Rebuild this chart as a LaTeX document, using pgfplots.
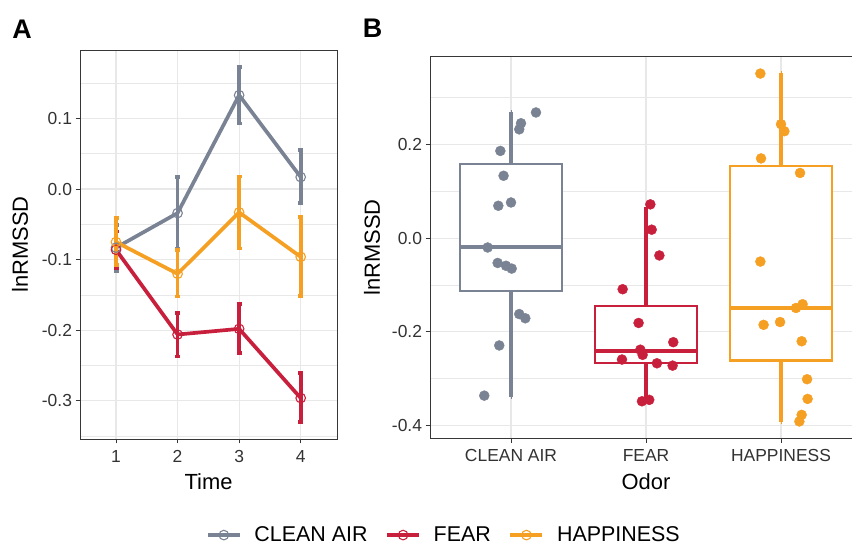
\documentclass[border=0pt]{standalone}
\usepackage{pgfplots}
\pgfplotsset{compat=1.18}
\usepgfplotslibrary{statistics}
\usepackage{fontspec}
\setmainfont{Liberation Sans}

\definecolor{cair}{RGB}{122,131,148}
\definecolor{cfear}{RGB}{200,32,60}
\definecolor{chap}{RGB}{245,160,35}
\definecolor{gridc}{RGB}{232,232,232}
\definecolor{framec}{RGB}{55,55,55}
\definecolor{tickc}{RGB}{50,50,50}

% panel A: means over time with error bars
\pgfplotstableread{
t m ep em
1 -0.083 0.032 0.033
2 -0.034 0.051 0.050
3 0.133 0.040 0.040
4 0.017 0.038 0.037
}\airA
\pgfplotstableread{
t m ep em
1 -0.086 0.026 0.026
2 -0.206 0.030 0.031
3 -0.198 0.035 0.034
4 -0.296 0.035 0.034
}\fearA
\pgfplotstableread{
t m ep em
1 -0.075 0.034 0.033
2 -0.120 0.034 0.032
3 -0.033 0.051 0.051
4 -0.096 0.056 0.055
}\hapA

% panel B: jittered individual values
\pgfplotstableread{
x y
1.185 0.268
1.074 0.245
1.061 0.232
0.921 0.186
0.945 0.133
0.906 0.069
1.000 0.076
0.827 -0.020
0.901 -0.053
0.963 -0.059
1.005 -0.065
1.061 -0.162
1.106 -0.171
0.913 -0.229
0.802 -0.336
}\airB
\pgfplotstableread{
x y
2.032 0.072
2.042 0.018
2.099 -0.037
1.827 -0.109
1.945 -0.181
2.202 -0.222
1.958 -0.238
1.975 -0.249
1.822 -0.259
2.081 -0.267
2.197 -0.272
1.970 -0.348
2.024 -0.345
}\fearB
\pgfplotstableread{
x y
2.847 0.351
3.000 0.243
3.025 0.228
2.852 0.170
3.141 0.139
2.847 -0.050
3.160 -0.141
3.111 -0.149
2.871 -0.185
2.993 -0.179
3.153 -0.220
3.193 -0.301
3.197 -0.343
3.153 -0.377
3.136 -0.391
}\hapB

\pgfplotsset{
  panel/.style={
    scale only axis,
    axis line style={draw=framec, line width=0.9bp},
    grid=both,
    major grid style={gridc, line width=1.2bp},
    minor grid style={gridc, line width=0.7bp},
    tick style={framec, line width=0.9bp},
    tick align=outside,
    xtick pos=bottom, ytick pos=left,
    major tick length=4.5bp,
    minor tick length=0bp,
    ticklabel style={font=\fontsize{17.5}{19}\selectfont, text=tickc},
    xticklabel style={yshift=-3bp},
    label style={font=\fontsize{22}{24}\selectfont},
    /pgf/number format/assume math mode=true,
  },
  errs/.style={
    line width=3.7bp, mark=o, mark size=4.8bp, mark options={line width=1.1bp},
    error bars/.cd, y dir=both, y explicit,
    error bar style={line width=3.7bp},
    error mark options={rotate=90, mark size=2.5bp, line width=3.7bp},
  },
  bx/.style={
    line width=2.2bp,
    boxplot/every box/.style={draw=#1, fill=white, line width=2.2bp},
    boxplot/every median/.style={draw=#1, line width=4bp},
    boxplot/every whisker/.style={draw=#1, line width=4bp},
    draw=#1,
  },
}

\begin{document}
\begin{tikzpicture}[x=1bp, y=1bp]
\useasboundingbox (0,0) rectangle (852,545);

\node[font=\bfseries\fontsize{27}{27}\selectfont] at (22,515.5) {A};
\node[font=\bfseries\fontsize{27}{27}\selectfont] at (372.5,517) {B};

\begin{axis}[panel,
  at={(80bp,106bp)}, anchor=south west,
  width=257bp, height=389bp,
  xmin=0.415, xmax=4.59, ymin=-0.354, ymax=0.197,
  xtick={1,2,3,4},
  ytick={-0.3,-0.2,-0.1,0,0.1},
  yticklabels={-0.3,-0.2,-0.1,0.0,0.1},
  minor ytick={-0.35,-0.25,-0.15,-0.05,0.05,0.15},
  xlabel={Time}, ylabel={lnRMSSD},
  xlabel style={at={(axis description cs:0.5,-0.11)}, anchor=center},
  ylabel style={at={(axis description cs:-0.233,0.5)}, anchor=center},
  legend columns=3,
  legend style={at={(axis description cs:1.42,-0.247)}, anchor=center,
    draw=none, fill=none, font=\fontsize{21.5}{23}\selectfont,
    nodes={inner xsep=4bp},
    /tikz/every odd column/.append style={column sep=9bp},
    /tikz/every even column/.append style={column sep=14bp}},
  legend image code/.code={\draw[mark repeat=2, mark phase=2, line width=3.2bp]
    plot coordinates {(0bp,0bp) (16bp,0bp) (32bp,0bp)};},
]
\addplot[cair, errs] table[x=t, y=m, y error plus=ep, y error minus=em] {\airA};
\addplot[cfear, errs] table[x=t, y=m, y error plus=ep, y error minus=em] {\fearA};
\addplot[chap, errs] table[x=t, y=m, y error plus=ep, y error minus=em] {\hapA};
\legend{CLEAN AIR, FEAR, HAPPINESS}
\end{axis}

\begin{axis}[panel,
  at={(430bp,106.7bp)}, anchor=south west,
  width=432bp, height=381.6bp,
  xmin=0.4, xmax=3.6, ymin=-0.427, ymax=0.387,
  boxplot/draw direction=y,
  xtick={1,2,3},
  xticklabels={CLEAN AIR, FEAR, HAPPINESS},
  ytick={-0.4,-0.2,0,0.2},
  yticklabels={-0.4,-0.2,0.0,0.2},
  minor ytick={-0.3,-0.1,0.1,0.3},
  xlabel={Odor}, ylabel={lnRMSSD},
  xlabel style={at={(axis description cs:0.5,-0.114)}, anchor=center},
  ylabel style={at={(axis description cs:-0.134,0.5)}, anchor=center},
]
\addplot+[bx=cair, boxplot prepared={draw position=1,
  lower whisker=-0.339, lower quartile=-0.112, median=-0.020,
  upper quartile=0.158, upper whisker=0.270, box extend=0.75, whisker extend=0.001}] coordinates {};
\addplot+[bx=cfear, boxplot prepared={draw position=2,
  lower whisker=-0.345, lower quartile=-0.267, median=-0.240,
  upper quartile=-0.144, upper whisker=0.067, box extend=0.75, whisker extend=0.001}] coordinates {};
\addplot+[bx=chap, boxplot prepared={draw position=3,
  lower whisker=-0.393, lower quartile=-0.261, median=-0.149,
  upper quartile=0.154, upper whisker=0.352, box extend=0.75, whisker extend=0.001}] coordinates {};
\addplot[only marks, mark=*, mark size=5bp, draw=none, mark options={draw=cair, fill=cair}] table {\airB};
\addplot[only marks, mark=*, mark size=5bp, draw=none, mark options={draw=cfear, fill=cfear}] table {\fearB};
\addplot[only marks, mark=*, mark size=5bp, draw=none, mark options={draw=chap, fill=chap}] table {\hapB};
\end{axis}
\end{tikzpicture}
\end{document}
